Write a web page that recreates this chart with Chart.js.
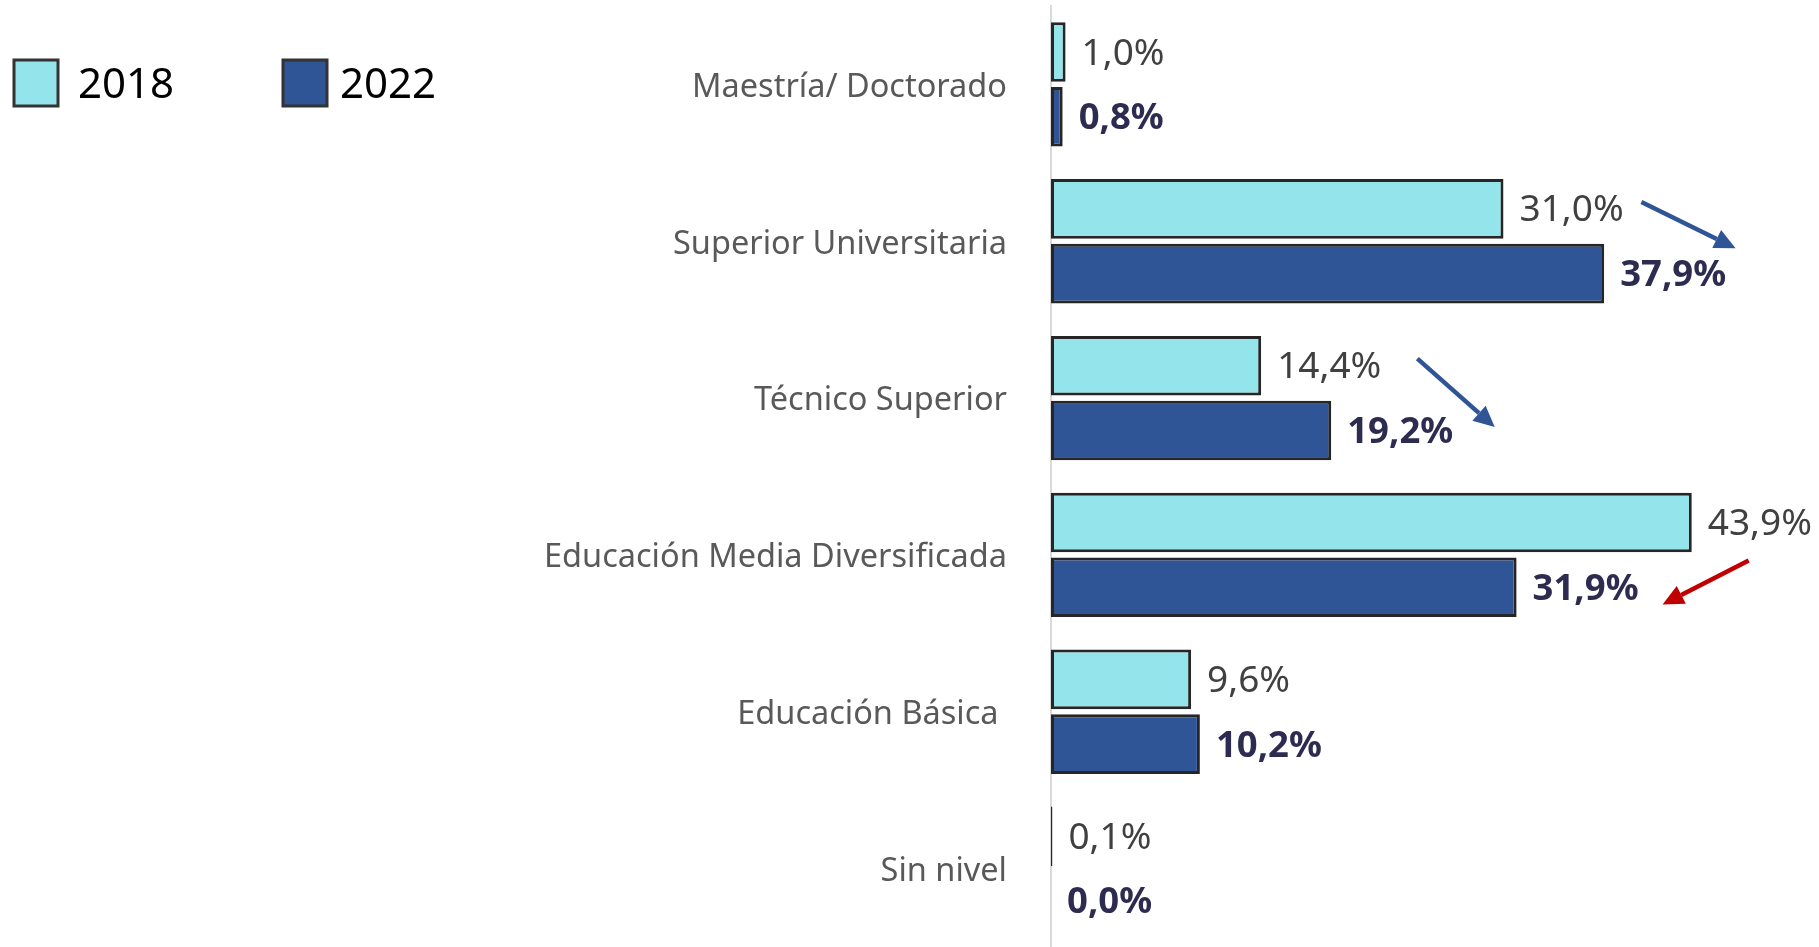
<!DOCTYPE html>
<html>
<head>
<meta charset="utf-8">
<script src="https://cdn.jsdelivr.net/npm/chart.js@4.4.1/dist/chart.umd.min.js"></script>
<style>
  html, body { margin: 0; padding: 0; background: #ffffff; }
  #wrap { width: 1819px; height: 947px; position: relative; }
</style>
</head>
<body>
<div id="wrap"><canvas id="c" width="1819" height="947"></canvas></div>
<script>
// ---- data ----
const categories = ["Maestría/ Doctorado", "Superior Universitaria", "Técnico Superior", "Educación Media Diversificada", "Educación Básica ", "Sin nivel"];
const seriesNames = ["2018", "2022"];
const values2018 = [1.0, 31.0, 14.4, 43.9, 9.6, 0.1];
const values2022 = [0.8, 37.9, 19.2, 31.9, 10.2, 0.0];
// trend arrows: category index, start/end as [value, offset in category units]
const arrows = [
  { cat: 1, from: [40.45, -0.25], to: [46.9, 0.044], color: "#2f5597" },
  { cat: 2, from: [25.1, -0.252], to: [30.4, 0.185], color: "#2f5597" },
  { cat: 3, from: [47.8, 0.035], to: [41.9, 0.316], color: "#c00000" }
];

const FONT = "'Noto Sans', 'Open Sans', sans-serif";
const fmt = v => v.toFixed(1).replace('.', ',') + '%';

const valueLabels = {
  id: 'valueLabels',
  afterDatasetsDraw(chart) {
    const ctx = chart.ctx;
    ctx.save();
    ctx.textBaseline = 'middle';
    ctx.textAlign = 'left';
    chart.data.datasets.forEach((ds, i) => {
      const meta = chart.getDatasetMeta(i);
      ctx.font = (i === 1 ? 'bold 36.5px ' : '37px ') + FONT;
      ctx.fillStyle = i === 1 ? '#2d2c50' : '#404040';
      meta.data.forEach((bar, j) => {
        ctx.fillText(fmt(ds.data[j]), bar.x + 16, bar.y + 2);
      });
    });
    ctx.restore();
  }
};

const arrowPlugin = {
  id: 'arrowPlugin',
  afterDraw(chart) {
    const ctx = chart.ctx;
    const xs = chart.scales.x, ys = chart.scales.y;
    const catH = (ys.bottom - ys.top) / categories.length;
    ctx.save();
    arrows.forEach(a => {
      const cy = ys.getPixelForValue(a.cat);
      const x1 = xs.getPixelForValue(a.from[0]), y1 = cy + a.from[1] * catH;
      const x2 = xs.getPixelForValue(a.to[0]), y2 = cy + a.to[1] * catH;
      const ang = Math.atan2(y2 - y1, x2 - x1);
      const hl = 21, hw = 10;
      const bx = x2 - hl * Math.cos(ang), by = y2 - hl * Math.sin(ang);
      ctx.strokeStyle = a.color;
      ctx.fillStyle = a.color;
      ctx.lineWidth = 4.5;
      ctx.beginPath();
      ctx.moveTo(x1, y1);
      ctx.lineTo(bx, by);
      ctx.stroke();
      ctx.beginPath();
      ctx.moveTo(x2, y2);
      ctx.lineTo(bx + hw * Math.sin(ang), by - hw * Math.cos(ang));
      ctx.lineTo(bx - hw * Math.sin(ang), by + hw * Math.cos(ang));
      ctx.closePath();
      ctx.fill();
    });
    ctx.restore();
  }
};

const legendPlugin = {
  id: 'customLegend',
  afterDraw(chart) {
    const ctx = chart.ctx;
    const items = [{ bx: 14, tx: 78 }, { bx: 283, tx: 340 }];
    ctx.save();
    chart.data.datasets.forEach((ds, i) => {
      const it = items[i];
      ctx.fillStyle = ds.backgroundColor;
      ctx.fillRect(it.bx, 60, 44, 46);
      ctx.strokeStyle = '#333333';
      ctx.lineWidth = 3;
      ctx.strokeRect(it.bx, 60, 44, 46);
      ctx.fillStyle = '#000000';
      ctx.font = '42px ' + FONT;
      ctx.textBaseline = 'middle';
      ctx.textAlign = 'left';
      ctx.fillText(ds.label, it.tx, 86);
    });
    ctx.restore();
  }
};

new Chart(document.getElementById('c'), {
  type: 'bar',
  data: {
    labels: categories,
    datasets: [
      { label: seriesNames[0], data: values2018, backgroundColor: '#93e5eb', borderColor: '#262626', borderWidth: 3, borderSkipped: false },
      { label: seriesNames[1], data: values2022, backgroundColor: '#2f5597', borderColor: '#262626', borderWidth: 3, borderSkipped: false }
    ]
  },
  options: {
    indexAxis: 'y',
    responsive: false,
    animation: false,
    events: [],
    layout: { padding: { top: 6, right: 9, bottom: -3, left: 0 } },
    datasets: { bar: { categoryPercentage: 0.826, barPercentage: 0.92 } },
    plugins: { legend: { display: false }, tooltip: { enabled: false } },
    scales: {
      x: { display: false, min: 0, max: 52 },
      y: {
        afterFit(scale) { scale.width = 1051; scale.paddingTop = 0; scale.paddingBottom = 0; },
        grid: { display: false, drawTicks: false },
        border: { display: true, color: '#d9d9d9', width: 2 },
        ticks: { color: '#595959', font: { family: FONT, size: 32.5 }, padding: 44, labelOffset: 3 }
      }
    }
  },
  plugins: [valueLabels, arrowPlugin, legendPlugin]
});
</script>
</body>
</html>
